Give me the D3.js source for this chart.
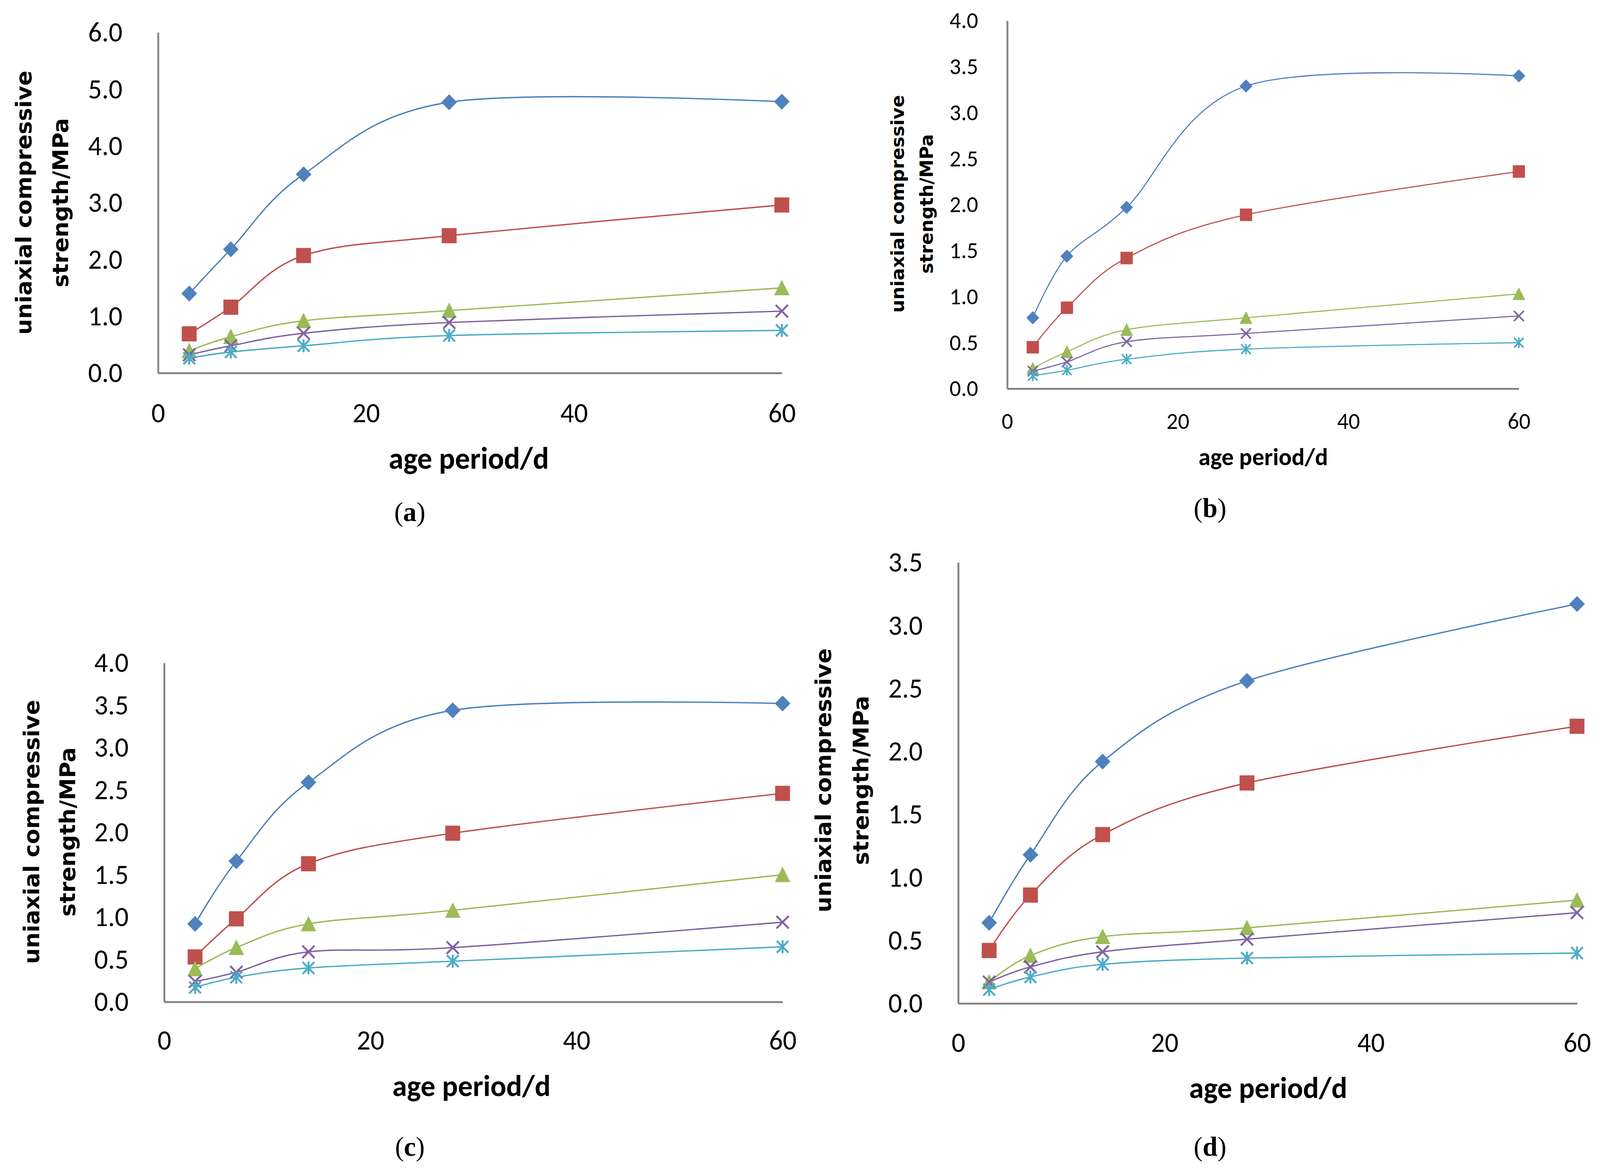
<!DOCTYPE html>
<html>
<head>
<meta charset="utf-8">
<script src="https://cdn.jsdelivr.net/npm/d3@7"></script>
<style>
  html, body { margin: 0; padding: 0; background: #ffffff; width: 100%; height: 100%; overflow: hidden; }
  svg { display: block; width: 100vw; height: 100vh; }
</style>
</head>
<body>
<script>
// ---------------- DATA ----------------
const ageDays = [3, 7, 14, 28, 60];
const xTickValues = [0, 20, 40, 60];

const yTicksA = [0, 1, 2, 3, 4, 5, 6];
const yTicksB = [0, 0.5, 1, 1.5, 2, 2.5, 3, 3.5, 4];
const yTicksC = [0, 0.5, 1, 1.5, 2, 2.5, 3, 3.5, 4];
const yTicksD = [0, 0.5, 1, 1.5, 2, 2.5, 3, 3.5];

// panel (a)
const aDiamond  = [1.40, 2.18, 3.50, 4.77, 4.78];
const aSquare   = [0.69, 1.16, 2.07, 2.42, 2.96];
const aTriangle = [0.39, 0.64, 0.92, 1.10, 1.50];
const aCross    = [0.32, 0.48, 0.70, 0.89, 1.09];
const aStar     = [0.26, 0.37, 0.48, 0.66, 0.75];

// panel (b)
const bDiamond  = [0.77, 1.44, 1.97, 3.29, 3.40];
const bSquare   = [0.45, 0.88, 1.42, 1.89, 2.36];
const bTriangle = [0.22, 0.40, 0.64, 0.77, 1.03];
const bCross    = [0.19, 0.29, 0.51, 0.60, 0.79];
const bStar     = [0.14, 0.20, 0.32, 0.43, 0.50];

// panel (c)
const cDiamond  = [0.92, 1.66, 2.59, 3.44, 3.52];
const cSquare   = [0.53, 0.98, 1.63, 1.99, 2.46];
const cTriangle = [0.39, 0.64, 0.92, 1.08, 1.50];
const cCross    = [0.24, 0.35, 0.59, 0.64, 0.94];
const cStar     = [0.17, 0.29, 0.40, 0.48, 0.65];

// panel (d)
const dDiamond  = [0.64, 1.18, 1.92, 2.56, 3.17];
const dSquare   = [0.42, 0.86, 1.34, 1.75, 2.20];
const dTriangle = [0.17, 0.38, 0.53, 0.60, 0.82];
const dCross    = [0.17, 0.29, 0.41, 0.51, 0.72];
const dStar     = [0.11, 0.21, 0.31, 0.36, 0.40];

const xTitle = "age period/d";
const yTitleLine1 = "uniaxial compressive";
const yTitleLine2 = "strength/MPa";
const captions = ["a", "b", "c", "d"];

// ---------------- STYLE / LAYOUT ----------------
const seriesStyle = [
  { shape: "diamond",  color: "#4F81BD", line: "#4A7EBB" },
  { shape: "square",   color: "#C0504D", line: "#BE4B48" },
  { shape: "triangle", color: "#9BBB59", line: "#98B954" },
  { shape: "cross",    color: "#8064A2", line: "#7D60A0" },
  { shape: "star",     color: "#4BACC6", line: "#46AAC5" }
];

const tickFont = "Carlito, 'Liberation Sans Narrow', 'DejaVu Sans Condensed', 'Open Sans', sans-serif";
const xTitleFont = "Carlito, 'Liberation Sans Narrow', 'DejaVu Sans Condensed', 'Open Sans', sans-serif";
const yTitleFont = "'DejaVu Sans', Verdana, sans-serif";
const captionFont = "'Liberation Serif', 'Times New Roman', serif";

const panels = [
  { data: [aDiamond, aSquare, aTriangle, aCross, aStar], yTicks: yTicksA, ymax: 6,
    x0: 413, x1: 2043, yTop: 83, yBot: 955, tickSize: 71, tickGap: 93, xLabelY: 1058,
    xTitleX: 1225, xTitleY: 1179, xTitleSize: 78,
    yT1x: 67, yT2x: 163, yTcy: 519, yTSize: 57,
    capX: 1071, capY: 1317, capSize: 70, marker: 39, cap: captions[0] },
  { data: [bDiamond, bSquare, bTriangle, bCross, bStar], yTicks: yTicksB, ymax: 4,
    x0: 2632, x1: 3969, yTop: 53, yBot: 995, tickSize: 59, tickGap: 76, xLabelY: 1079,
    xTitleX: 3301, xTitleY: 1174, xTitleSize: 63,
    yT1x: 2350, yT2x: 2425, yTcy: 522, yTSize: 47,
    capX: 3162, capY: 1307, capSize: 70, marker: 32, cap: captions[1] },
  { data: [cDiamond, cSquare, cTriangle, cCross, cStar], yTicks: yTicksC, ymax: 4,
    x0: 429, x1: 2045, yTop: 1697, yBot: 2565, tickSize: 71, tickGap: 93, xLabelY: 2664,
    xTitleX: 1232, xTitleY: 2785, xTitleSize: 77,
    yT1x: 87, yT2x: 181, yTcy: 2130, yTSize: 57,
    capX: 1071, capY: 2942, capSize: 70, marker: 39, cap: captions[2] },
  { data: [dDiamond, dSquare, dTriangle, dCross, dStar], yTicks: yTicksD, ymax: 3.5,
    x0: 2504, x1: 4121, yTop: 1440, yBot: 2569, tickSize: 71, tickGap: 93, xLabelY: 2670,
    xTitleX: 3314, xTitleY: 2790, xTitleSize: 77,
    yT1x: 2156, yT2x: 2254, yTcy: 1998, yTSize: 57,
    capX: 3162, capY: 2942, capSize: 70, marker: 39, cap: captions[3] }
];

const W = 4181, H = 2998;
const svg = d3.select("body").append("svg")
  .attr("viewBox", `0 0 ${W} ${H}`)
  .attr("preserveAspectRatio", "none");
svg.append("rect").attr("width", W).attr("height", H).attr("fill", "#ffffff");

function markerPath(shape, s) {
  const r = s / 2;
  switch (shape) {
    case "diamond": return `M0,${-r * 1.02}L${r * 1.02},0L0,${r * 1.02}L${-r * 1.02},0Z`;
    case "square": { const q = r * 0.97; return `M${-q},${-q}H${q}V${q}H${-q}Z`; }
    case "triangle": return `M0,${-r}L${r},${r * 0.95}L${-r},${r * 0.95}Z`;
    case "cross": { const q = r * 0.82; return `M${-q},${-q}L${q},${q}M${-q},${q}L${q},${-q}`; }
    case "star": { const q = r * 0.78; return `M${-q},${-q}L${q},${q}M${-q},${q}L${q},${-q}M0,${-r * 0.85}L0,${r * 0.85}`; }
  }
}

function drawPanel(p) {
  const g = svg.append("g");
  const x = d3.scaleLinear().domain([0, 60]).range([p.x0, p.x1]);
  const y = d3.scaleLinear().domain([0, p.ymax]).range([p.yBot, p.yTop]);
  const k = p.marker / 39;

  // y axis
  const ya = g.append("g").attr("transform", `translate(${p.x0},0)`)
    .call(d3.axisLeft(y).tickValues(p.yTicks).tickSize(0).tickPadding(p.tickGap)
      .tickFormat(d3.format(".1f")));
  // x axis
  const padX = (p.xLabelY - p.yBot) - 0.39 * p.tickSize;
  const xa = g.append("g").attr("transform", `translate(0,${p.yBot})`)
    .call(d3.axisBottom(x).tickValues(xTickValues).tickSize(0).tickPadding(padX)
      .tickFormat(d3.format("d")));
  [ya, xa].forEach(a => {
    a.select(".domain").attr("stroke", "#868686").attr("stroke-width", 5);
    a.selectAll("text").attr("font-family", tickFont).attr("font-size", p.tickSize)
      .attr("fill", "#000");
  });

  // series
  const line = d3.line().x(d => x(d[0])).y(d => y(d[1])).curve(d3.curveCardinal.tension(0));
  p.data.forEach((vals, i) => {
    const st = seriesStyle[i];
    const pts = ageDays.map((d, j) => [d, vals[j]]);
    g.append("path").attr("d", line(pts)).attr("fill", "none")
      .attr("stroke", st.line).attr("stroke-width", 3.4 * k);
    const isLine = st.shape === "cross" || st.shape === "star";
    g.selectAll(null).data(pts).enter().append("path")
      .attr("transform", d => `translate(${x(d[0])},${y(d[1])})`)
      .attr("d", markerPath(st.shape, p.marker))
      .attr("fill", isLine ? "none" : st.color)
      .attr("stroke", st.color)
      .attr("stroke-width", isLine ? 5 * k : 1);
  });

  // x title
  g.append("text").attr("x", p.xTitleX).attr("y", p.xTitleY + 0.27 * p.xTitleSize)
    .attr("text-anchor", "middle").attr("font-family", xTitleFont)
    .attr("font-weight", "bold").attr("font-size", p.xTitleSize).attr("fill", "#000")
    .text(xTitle);

  // y title (two lines, rotated)
  [[p.yT1x, yTitleLine1], [p.yT2x, yTitleLine2]].forEach(([cx, t]) => {
    g.append("text")
      .attr("transform", `translate(${cx + 0.26 * p.yTSize},${p.yTcy}) rotate(-90)`)
      .attr("text-anchor", "middle").attr("font-family", yTitleFont)
      .attr("font-weight", "bold").attr("font-size", p.yTSize).attr("fill", "#000")
      .text(t);
  });

  // caption
  const cap = g.append("text").attr("x", p.capX).attr("y", p.capY + 0.24 * p.capSize)
    .attr("text-anchor", "middle").attr("font-family", captionFont)
    .attr("font-size", p.capSize).attr("fill", "#000");
  cap.append("tspan").text("(");
  cap.append("tspan").attr("font-weight", "bold").text(p.cap);
  cap.append("tspan").text(")");
}

panels.forEach(drawPanel);
</script>
</body>
</html>
